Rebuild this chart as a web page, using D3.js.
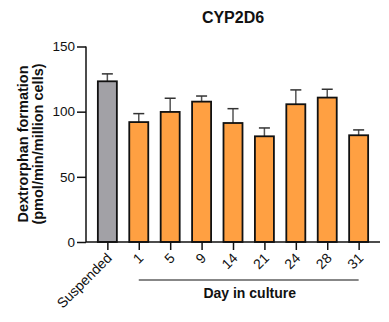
<!DOCTYPE html>
<html>
<head>
<meta charset="utf-8">
<script src="https://cdn.jsdelivr.net/npm/d3@7"></script>
<style>
  body { margin: 0; background: #fff; }
  text { font-family: "Liberation Sans", Arial, sans-serif; }
</style>
</head>
<body>
<svg id="chart" width="389" height="322"></svg>
<script>
// values
const categories = ["Suspended", "1", "5", "9", "14", "21", "24", "28", "31"];
const means = [123.3, 92, 99.8, 107.7, 91.3, 81.1, 105.7, 110.8, 81.9];
const errTops = [129, 98.5, 110.3, 112, 102.3, 87.5, 116.7, 117.2, 86];
const yTicks = [0, 50, 100, 150];

const svg = d3.select("#chart");
const margin = {left: 86, right: 9};
const W = 389;
const font = "Liberation Sans, Arial, sans-serif";

const x = d3.scalePoint()
    .domain(categories)
    .range([margin.left, W - margin.right])
    .padding(0.68);

const y = d3.scaleLinear()
    .domain([0, 150])
    .range([242, 46.5]);

const barW = 19;

// error bars (upper only)
const eb = svg.append("g");
categories.forEach((c, i) => {
    eb.append("line")
        .attr("x1", x(c)).attr("x2", x(c))
        .attr("y1", y(means[i])).attr("y2", y(errTops[i]))
        .attr("stroke", "#555").attr("stroke-width", 1.5);
    eb.append("line")
        .attr("x1", x(c) - 5.5).attr("x2", x(c) + 5.5)
        .attr("y1", y(errTops[i])).attr("y2", y(errTops[i]))
        .attr("stroke", "#333").attr("stroke-width", 1.5);
});

// bars
svg.append("g").selectAll("rect")
    .data(categories)
    .join("rect")
    .attr("x", d => x(d) - barW / 2)
    .attr("y", (d, i) => y(means[i]))
    .attr("width", barW)
    .attr("height", (d, i) => y(0) - y(means[i]))
    .attr("fill", (d, i) => i === 0 ? "#a2a1a6" : "#ffa042")
    .attr("stroke", "#111")
    .attr("stroke-width", 1.8);

// y axis
const yAxis = svg.append("g")
    .attr("transform", `translate(${margin.left},0)`)
    .call(d3.axisLeft(y).tickValues(yTicks).tickSize(9).tickPadding(2))
    .call(g => g.select(".domain").attr("stroke", "#111").attr("stroke-width", 1.5).attr("d", `M0,${y(0)}V${y(150)}`));
yAxis.selectAll(".tick line").attr("stroke", "#111").attr("stroke-width", 1.5);
yAxis.selectAll(".tick text").attr("font-size", 13.5).attr("fill", "#111")
    .attr("font-family", font);

// x axis
const xAxis = svg.append("g")
    .attr("transform", `translate(0,${y(0)})`)
    .call(d3.axisBottom(x).tickSize(8).tickPadding(3))
    .call(g => g.select(".domain").attr("stroke", "#111").attr("stroke-width", 1.5).attr("d", `M${margin.left},0H${W - margin.right}`));
xAxis.selectAll(".tick line").attr("stroke", "#111").attr("stroke-width", 1.5);
xAxis.selectAll(".tick text")
    .attr("font-size", 14).attr("fill", "#111")
    .attr("font-family", font)
    .attr("text-anchor", "end")
    .attr("dy", null)
    .attr("y", 0)
    .attr("transform", "translate(5,17) rotate(-45)");

// day in culture bracket
svg.append("line")
    .attr("x1", x("1")).attr("x2", x("31"))
    .attr("y1", 280).attr("y2", 280)
    .attr("stroke", "#111").attr("stroke-width", 1.2);

svg.append("text")
    .attr("x", (x("1") + x("31")) / 2 + 1)
    .attr("y", 298)
    .attr("text-anchor", "middle")
    .attr("font-size", 14).attr("font-weight", "bold").attr("fill", "#111")
    .text("Day in culture");

// title
svg.append("text")
    .attr("x", 233).attr("y", 23)
    .attr("text-anchor", "middle")
    .attr("font-size", 16).attr("font-weight", "bold").attr("fill", "#111")
    .text("CYP2D6");

// y label
const yl = svg.append("text")
    .attr("transform", "translate(27.5,144) rotate(-90)")
    .attr("text-anchor", "middle")
    .attr("font-size", 14.5).attr("font-weight", "bold").attr("fill", "#111");
yl.append("tspan").attr("x", 0).attr("y", 0).text("Dextrorphan formation");
yl.append("tspan").attr("x", 0).attr("y", 15.5).text("(pmol/min/million cells)");
</script>
</body>
</html>
